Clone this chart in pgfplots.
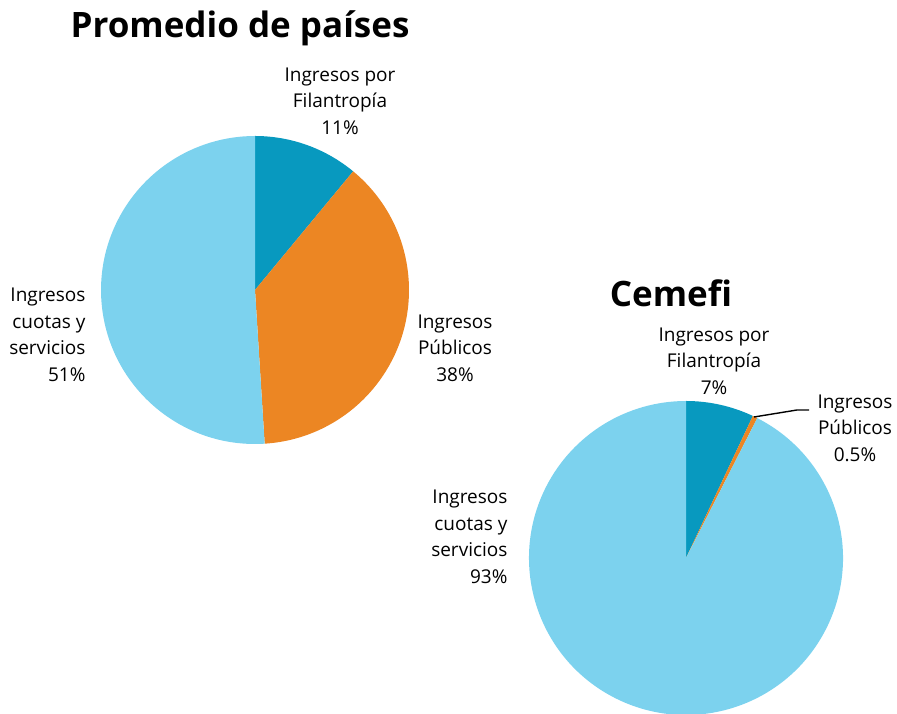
\documentclass[border=0pt]{standalone}
\usepackage{pgfplots}
\pgfplotsset{compat=1.18}
\usepackage{fontspec}
\setmainfont{Open Sans}
\definecolor{filant}{HTML}{0899BF}
\definecolor{publico}{HTML}{EC8623}
\definecolor{cuotas}{HTML}{7CD2EE}
\tikzset{lbl/.style={font=\fontsize{19}{26.5}\selectfont, align=center},
         ttl/.style={font=\fontsize{35}{40}\selectfont\bfseries}}
% wedge: centre x, centre y, radius, start %, end %, colour (clockwise from 12 o'clock)
\newcommand\piewedge[6]{%
  \fill[#6] (axis cs:#1,#2) -- ++({90-3.6*#4}:#3pt)
    arc[start angle={90-3.6*#4}, end angle={90-3.6*#5}, radius=#3pt] -- cycle;}
\begin{document}
\begin{tikzpicture}
\begin{axis}[
  at={(0,0)}, anchor=south west,
  x=1pt, y=1pt,
  xmin=0, xmax=897, ymin=0, ymax=714,
  hide axis, clip=false,
]
% Promedio de paises: 11, 38, 51
\piewedge{255}{424}{154}{0}{11}{filant}
\piewedge{255}{424}{154}{11}{49}{publico}
\piewedge{255}{424}{154}{49}{100}{cuotas}
% Cemefi: 7, 0.5, 93
\piewedge{686}{156}{157}{0}{7}{filant}
\piewedge{686}{156}{157}{7}{7.5}{publico}
\piewedge{686}{156}{157}{7.5}{100}{cuotas}
\draw[black, line width=1.4pt] (axis cs:754,297) -- (axis cs:797,304) -- (axis cs:809,304);

\node[ttl] at (axis cs:240,686) {Promedio de países};
\node[ttl] at (axis cs:671,421) {Cemefi};

\node[lbl] at (axis cs:340,613) {Ingresos por\\Filantropía\\11\%};
\node[lbl] at (axis cs:455,366) {Ingresos\\Públicos\\38\%};
\node[lbl, anchor=east, align=right] at (axis cs:89,379) {Ingresos\\cuotas y\\servicios\\51\%};

\node[lbl] at (axis cs:714,353) {Ingresos por\\Filantropía\\7\%};
\node[lbl] at (axis cs:855,286) {Ingresos\\Públicos\\0.5\%};
\node[lbl, anchor=east, align=right] at (axis cs:511,177) {Ingresos\\cuotas y\\servicios\\93\%};
\end{axis}
\pgfresetboundingbox
\useasboundingbox (0,0) rectangle (897pt,714pt);
\end{tikzpicture}
\end{document}
